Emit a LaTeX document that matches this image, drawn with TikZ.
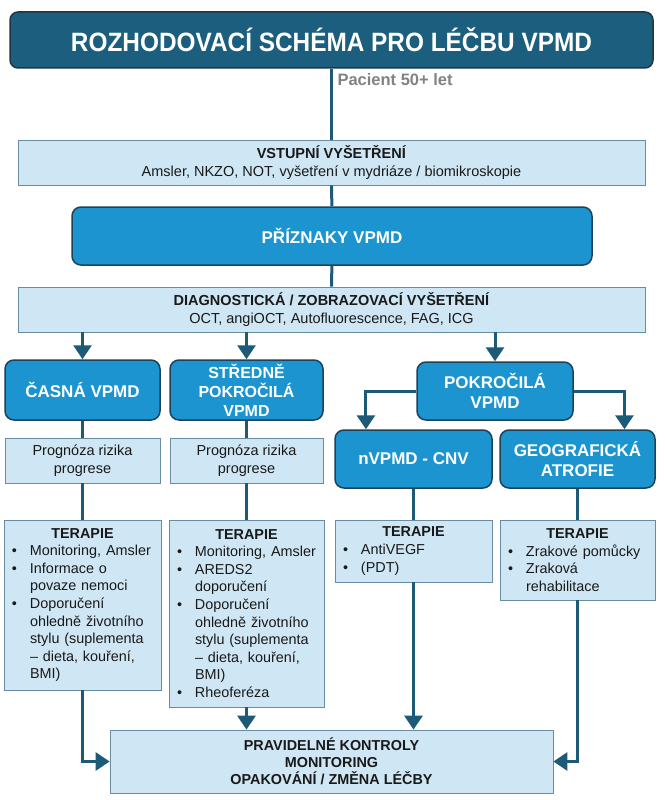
\documentclass[tikz,border=0pt]{standalone}
\usepackage{fontspec}
\setmainfont{Liberation Sans}
\newfontfamily\titlefont[FakeStretch=0.92]{Liberation Sans}
\usetikzlibrary{arrows.meta,calc}
\setlength{\parindent}{0pt}

\definecolor{titleblue}{RGB}{27,94,126}
\definecolor{titleline}{RGB}{30,55,70}
\definecolor{midblue}{RGB}{28,148,207}
\definecolor{blueline}{RGB}{30,66,88}
\definecolor{lightfill}{RGB}{207,231,244}
\definecolor{lightline}{RGB}{105,140,160}
\definecolor{linkcol}{RGB}{28,90,120}
\definecolor{pacgray}{RGB}{130,130,130}

\newcommand{\fsz}[2]{\fontsize{#1}{#2}\selectfont}
\newcommand{\thead}[1]{{\centering\textbf{#1}\par}}
\newcommand{\bitem}{\par\hangindent=21pt\hangafter=1\noindent\makebox[21pt][l]{\hspace{3pt}\textbullet}}

\tikzset{
  titlebox/.style={draw=titleline, line width=1.5pt, fill=titleblue, rounded corners=8pt,
    text=white, font=\titlefont\bfseries\fsz{26.5}{30}},
  bluebox/.style={draw=blueline, line width=1.5pt, fill=midblue, rounded corners=9pt,
    text=white, align=center, font=\bfseries\fsz{17}{20.5}},
  lightbox/.style={draw=lightline, line width=0.8pt, fill=lightfill, text=black!90,
    align=center, font=\fsz{14.5}{17.6}},
  listbox/.style={lightbox, align=left, inner xsep=5pt, font=\fsz{14.4}{17.6}},
  link/.style={draw=linkcol, line width=3pt},
  arrow/.style={link, -{Triangle[width=18pt,length=14pt]}},
}

\begin{document}
\begin{tikzpicture}[x=1pt,y=-1pt]
\path[use as bounding box,fill=white] (0,0) rectangle (664,800);

\node[titlebox, minimum width=643pt, minimum height=56pt] (title) at (331.5,40) {ROZHODOVACÍ SCHÉMA PRO LÉČBU VPMD};
\node[anchor=west, font=\bfseries\fsz{16.5}{19}, text=pacgray] (pacient) at (334,80) {Pacient 50+ let};

\node[lightbox, minimum width=627pt, minimum height=45pt] (vstup) at (331.5,162.5) {\textbf{VSTUPNÍ VYŠETŘENÍ}\\
                                        Amsler, NKZO, NOT, vyšetření v mydriáze / biomikroskopie};
\node[bluebox, minimum width=520pt, minimum height=58pt] (priznaky) at (332,236) {PŘÍZNAKY VPMD};
\node[lightbox, minimum width=627pt, minimum height=45pt] (diag) at (331.5,309.5) {\textbf{DIAGNOSTICKÁ / ZOBRAZOVACÍ VYŠETŘENÍ}\\
                                        OCT, angiOCT, Autofluorescence, FAG, ICG};

\node[bluebox, minimum width=155pt, minimum height=60pt] (casna) at (82.5,390) {ČASNÁ VPMD};
\node[bluebox, minimum width=153pt, minimum height=60pt, inner ysep=1pt, font=\bfseries\fsz{16}{19}] (stredne) at (246.5,390) {STŘEDNĚ\\POKROČILÁ\\VPMD};
\node[bluebox, minimum width=156pt, minimum height=58pt] (pokrocila) at (495,391) {POKROČILÁ\\VPMD};
\node[bluebox, minimum width=157pt, minimum height=58pt] (nvpmd) at (413.5,459) {nVPMD - CNV};
\node[bluebox, minimum width=155pt, minimum height=58pt] (atrofie) at (577.5,459) {GEOGRAFICKÁ\\ATROFIE};

\node[lightbox, minimum width=155pt, minimum height=45pt] (prog1) at (82.5,460.5) {Prognóza rizika\\progrese};
\node[lightbox, minimum width=153pt, minimum height=45pt] (prog2) at (246.5,460.5) {Prognóza rizika\\progrese};

\node[listbox, text width=147pt, minimum height=170pt] (ter1) at (82.5,605) {\thead{TERAPIE}
                                        \bitem Monitoring, Amsler
                                        \bitem Informace o\newline povaze nemoci
                                        \bitem Doporučení\newline ohledně životního\newline stylu (suplementa\newline – dieta, kouření,\newline BMI)\par};
\node[listbox, text width=145pt, minimum height=187pt] (ter2) at (246.5,613.5) {\thead{TERAPIE}
                                        \bitem Monitoring, Amsler
                                        \bitem AREDS2\newline doporučení
                                        \bitem Doporučení\newline ohledně životního\newline stylu (suplementa\newline – dieta, kouření,\newline BMI)
                                        \bitem Rheoferéza\par};
\node[listbox, text width=147pt, minimum height=62pt] (ter3) at (413.5,551) {\thead{TERAPIE}
                                        \bitem AntiVEGF
                                        \bitem (PDT)\par};
\node[listbox, text width=145pt, minimum height=80pt] (ter4) at (577.5,560) {\thead{TERAPIE}
                                        \bitem Zrakové pomůcky
                                        \bitem Zraková\newline rehabilitace\par};

\node[lightbox, minimum width=443pt, minimum height=63pt, font=\bfseries\fsz{14.4}{17}] (kontroly) at (331.5,761.5) {PRAVIDELNÉ KONTROLY\\
                                        MONITORING\\
                                        OPAKOVÁNÍ / ZMĚNA LÉČBY};

\draw[link] (title) -- (vstup);
\draw[link] (vstup) -- (priznaky);
\draw[link] (priznaky) -- (diag);
\draw[arrow] (casna.north |- diag.south) -- (casna.north);
\draw[arrow] (stredne.north |- diag.south) -- (stredne.north);
\draw[arrow] (pokrocila.north |- diag.south) -- (pokrocila.north);

\coordinate (nvin) at ($(nvpmd.north west)!0.2!(nvpmd.north east)$);
\coordinate (atrin) at ($(atrofie.north west)!0.8!(atrofie.north east)$);
\draw[arrow] (pokrocila.west) -| (nvin);
\draw[arrow] (pokrocila.east) -| (atrin);

\draw[link] (casna) -- (prog1) -- (ter1);
\draw[link] (stredne) -- (prog2) -- (ter2);
\draw[link] (nvpmd) -- (ter3);
\draw[link] (atrofie) -- (ter4);

\draw[arrow] (ter1.south) |- (kontroly.west);
\draw[arrow] (ter2.south) -- (ter2.south |- kontroly.north);
\draw[arrow] (ter3.south) -- (ter3.south |- kontroly.north);
\draw[arrow] (ter4.south) |- (kontroly.east);
\end{tikzpicture}
\end{document}
